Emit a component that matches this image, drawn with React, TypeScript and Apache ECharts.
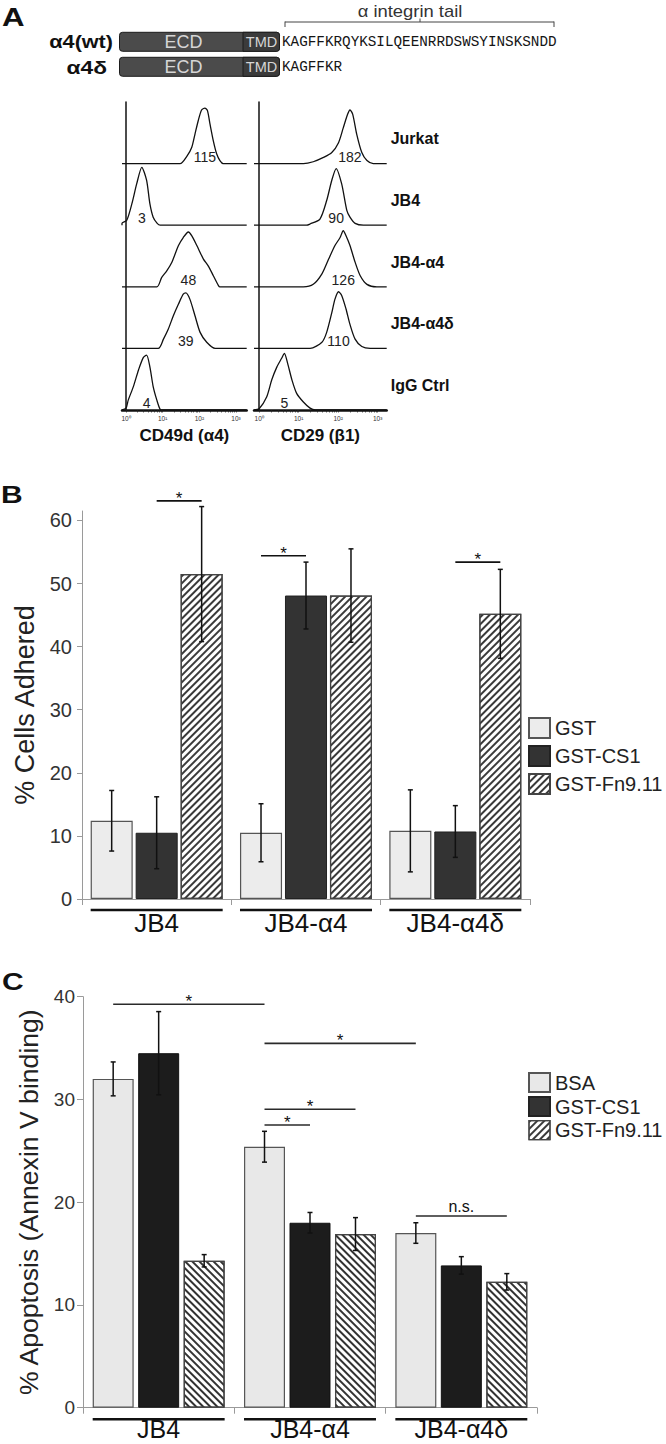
import React, { useEffect, useRef } from 'react';
import * as echarts from 'echarts';

const FONT = '"Liberation Sans", Arial, Helvetica, sans-serif';
const MONO = '"Liberation Mono", "DejaVu Sans Mono", monospace';

// ---------- Panel A: constructs ----------
const constructNames = ['α4(wt)', 'α4δ'];
const constructTails = ['KAGFFKRQYKSILQEENRRDSWSYINSKSNDD', 'KAGFFKR'];

// ---------- Panel A: flow cytometry histograms ----------
const rowNames = ['Jurkat', 'JB4', 'JB4-α4', 'JB4-α4δ', 'IgG Ctrl'];
const cd49dMFI = [115, 3, 48, 39, 4];
const cd29MFI = [182, 90, 126, 110, 5];
const decadeValues = [0, 1, 2, 3];
const decadeLabels = ['10⁰', '10¹', '10²', '10³'];
const cd49dRange = [-0.11, 3.29];
const cd29Range = [-0.13, 3.23];
// [log10 intensity, relative count (fraction of row height)]
const cd49dJurkat = [[1.47,0],[1.67,0.13],[1.79,0.26],[1.88,0.48],[1.97,0.7],[2.06,0.87],[2.15,0.9],[2.22,0.86],[2.29,0.64],[2.38,0.37],[2.47,0.16],[2.56,0.05],[2.65,0]];
const cd49dJB4 = [[-0.11,0.03],[0.02,0.08],[0.16,0.35],[0.29,0.67],[0.43,0.94],[0.56,0.73],[0.65,0.35],[0.74,0.13],[0.85,0.03],[0.93,0]];
const cd49dJB4a4 = [[0.84,0],[0.97,0.15],[1.11,0.26],[1.25,0.4],[1.43,0.67],[1.56,0.8],[1.7,0.89],[1.79,0.83],[1.93,0.67],[2.11,0.45],[2.24,0.34],[2.38,0.18],[2.52,0.02],[2.56,0]];
const cd49dJB4a4d = [[0.88,0],[1.02,0.15],[1.15,0.31],[1.29,0.53],[1.43,0.72],[1.56,0.88],[1.63,0.9],[1.74,0.8],[1.88,0.53],[2.02,0.26],[2.2,0.1],[2.43,0]];
const cd49dIgG = [[0,0.03],[0.06,0.16],[0.2,0.38],[0.34,0.65],[0.47,0.85],[0.56,0.89],[0.65,0.7],[0.74,0.38],[0.84,0.16],[0.93,0.01],[1,0]];
const cd29Jurkat = [[1.12,0],[1.37,0.03],[1.63,0.1],[1.84,0.18],[2.01,0.34],[2.13,0.58],[2.24,0.8],[2.3,0.87],[2.37,0.8],[2.47,0.48],[2.6,0.18],[2.73,0.05],[2.89,0]];
const cd29JB4 = [[1.2,0],[1.29,0.02],[1.54,0.1],[1.71,0.4],[1.84,0.73],[1.95,0.92],[2.09,0.67],[2.22,0.24],[2.3,0.13],[2.43,0.03],[2.64,0]];
const cd29JB4a4 = [[1.12,0],[1.37,0.04],[1.59,0.21],[1.76,0.45],[1.92,0.67],[2.05,0.8],[2.13,0.91],[2.2,0.83],[2.3,0.67],[2.43,0.4],[2.56,0.18],[2.73,0.04],[2.98,0]];
const cd29JB4a4d = [[1.29,0],[1.59,0.1],[1.71,0.26],[1.84,0.58],[1.92,0.8],[2.01,0.92],[2.09,0.86],[2.2,0.64],[2.3,0.39],[2.43,0.15],[2.6,0.03],[2.81,0]];
const cd29IgG = [[0,0.02],[0.19,0.21],[0.32,0.49],[0.45,0.7],[0.57,0.84],[0.64,0.92],[0.72,0.76],[0.83,0.49],[0.95,0.27],[1.12,0.13],[1.29,0.03],[1.42,0]];
const cd49dCurves = [cd49dJurkat, cd49dJB4, cd49dJB4a4, cd49dJB4a4d, cd49dIgG];
const cd29Curves = [cd29Jurkat, cd29JB4, cd29JB4a4, cd29JB4a4d, cd29IgG];

// ---------- Panel B: adhesion ----------
const cellGroups = ['JB4', 'JB4-α4', 'JB4-α4δ'];
const adhesionNames = ['GST', 'GST-CS1', 'GST-Fn9.11'];
const adhesionGST = [12.4, 10.5, 10.8];
const adhesionGSTerr = [4.8, 4.6, 6.5];
const adhesionCS1 = [10.5, 48.1, 10.7];
const adhesionCS1err = [5.7, 5.3, 4.1];
const adhesionFn = [51.5, 48.1, 45.2];
const adhesionFnErr = [10.7, 7.4, 7.05];
const adhesionTicks = [0, 10, 20, 30, 40, 50, 60];
// significance: [fromGroup, fromBar, toGroup, toBar, level]
const adhesionSig = [[0, 1, 0, 2, 63.1], [1, 0, 1, 1, 54.4], [2, 1, 2, 2, 53.4]];
const adhesionSigText = ['*', '*', '*'];

// ---------- Panel C: apoptosis ----------
const apoptosisNames = ['BSA', 'GST-CS1', 'GST-Fn9.11'];
const apoptosisBSA = [32.0, 25.4, 17.0];
const apoptosisBSAerr = [1.65, 1.5, 1.0];
const apoptosisCS1 = [34.5, 18.0, 13.85];
const apoptosisCS1err = [4.05, 1.0, 0.85];
const apoptosisFn = [14.3, 16.9, 12.25];
const apoptosisFnErr = [0.6, 1.6, 0.8];
const apoptosisSig = [[0, 0, 1, 0, 39.26], [1, 0, 2, 0, 35.46], [1, 0, 1, 2, 29.04], [1, 0, 1, 1, 27.51], [2, 0, 2, 2, 18.66]];
const apoptosisSigText = ['*', '*', '*', '*', 'n.s.'];

// ---------- helpers ----------
const logTicks: number[] = [];
for (let k = 0; k < 3; k++) for (let m = 1; m < 10; m++) logTicks.push(k + Math.log10(m));
logTicks.push(3);

function peakX(pts: number[][]) {
  let best = pts[0];
  pts.forEach((p) => { if (p[1] > best[1]) best = p; });
  return best[0];
}

function barLayout(api: any, cat: number, ser: number, catGap: number, gap: number) {
  const bw = api.size([1, 0])[0];
  const w = (bw * (1 - catGap)) / (3 + 2 * gap);
  const total = 3 * w + 2 * w * gap;
  const cx = api.coord([cat, 0])[0] - total / 2 + w / 2 + ser * w * (1 + gap);
  return { cx, w };
}

function st(text: string, size: number, extra: any = {}) {
  const align = extra.align || 'center';
  const va = extra.verticalAlign || 'middle';
  return {
    text,
    fontSize: size,
    fontFamily: FONT,
    fill: '#111',
    ...extra,
    align,
    verticalAlign: va,
    textAlign: align,
    textVerticalAlign: va,
  };
}

function gText(x: number, y: number, text: string, size: number, extra: any = {}, scaleX = 1) {
  return { type: 'text', x, y, scaleX, silent: true, style: st(text, size, extra) };
}

function gLine(x1: number, y1: number, x2: number, y2: number, color = '#444', width = 1) {
  return { type: 'line', silent: true, shape: { x1, y1, x2, y2 }, style: { stroke: color, lineWidth: width } };
}

function buildGraphic() {
  const els: any[] = [];
  // panel letters
  els.push(gText(2, 16.7, 'A', 26, { fontWeight: 'bold', align: 'left' }, 1.2));
  els.push(gText(1, 495, 'B', 24, { fontWeight: 'bold', align: 'left' }, 1.25));
  els.push(gText(2, 981.5, 'C', 24, { fontWeight: 'bold', align: 'left' }, 1.25));
  // tail bracket
  els.push(gText(410, 11, 'α integrin tail', 16, { fill: '#333' }, 1.15));
  els.push(gLine(285, 22, 554, 22));
  els.push(gLine(285, 21.5, 285, 27));
  els.push(gLine(554, 21.5, 554, 27));
  els.push(gLine(420, 22, 420, 18.5));
  const tops = [32.3, 57.3];
  const labelRight = [113, 107];
  const labelSize = [18, 19];
  tops.forEach((top, i) => {
    const h = 19;
    const cy = top + h / 2;
    els.push({ type: 'rect', silent: true, shape: { x: 119.5, y: top, width: 160, height: h, r: 3 }, style: { fill: '#4b4b4b', stroke: '#1c1c1c', lineWidth: 1 } });
    els.push({ type: 'rect', silent: true, shape: { x: 243, y: top, width: 36.5, height: h, r: [0, 3, 3, 0] }, style: { fill: '#3b3b3b', stroke: '#1c1c1c', lineWidth: 1 } });
    els.push(gText(183.5, cy, 'ECD', 18, { fill: '#d6d6d6' }));
    els.push(gText(261.5, cy, 'TMD', 14.5, { fill: '#d6d6d6' }));
    els.push(gText(labelRight[i], cy, constructNames[i], labelSize[i], { fontWeight: 'bold', align: 'right' }, 1.2));
    els.push(gText(282, cy, constructTails[i], 14.3, { fontFamily: MONO, align: 'left', fill: '#151515' }));
  });
  return els;
}

function histSeries(curves: number[][][], axis: number, range: number[]) {
  return curves.map((pts, r) => {
    const base = 4 - r;
    return {
      type: 'line',
      xAxisIndex: axis,
      yAxisIndex: axis,
      data: [[range[0], base], ...pts.map((p) => [p[0], base + p[1]]), [range[1], base]],
      symbol: 'none',
      smooth: 0.25,
      lineStyle: { color: '#111', width: 1.3 },
      silent: true,
      z: 3,
    };
  });
}

function mfiSeries(curves: number[][][], mfi: number[], axis: number) {
  return {
    type: 'custom',
    xAxisIndex: axis,
    yAxisIndex: axis,
    silent: true,
    z: 5,
    data: mfi.map((v, r) => [peakX(curves[r]), 4 - r, v]),
    renderItem: (_p: any, api: any) => {
      const pt = api.coord([api.value(0), api.value(1)]);
      return { type: 'text', x: pt[0], y: pt[1] - 7, style: st(String(api.value(2)), 14, { fill: '#222' }) };
    },
  };
}

function histXAxis(grid: number, range: number[], name: string) {
  return {
    type: 'value',
    gridIndex: grid,
    min: range[0],
    max: range[1],
    splitLine: { show: false },
    axisLine: { show: true, lineStyle: { color: '#111', width: 2.5 } },
    axisTick: { show: true, customValues: logTicks, length: 2.5, lineStyle: { color: '#222', width: 0.7 } },
    axisLabel: {
      show: true,
      customValues: decadeValues,
      formatter: (v: number) => decadeLabels[decadeValues.indexOf(Math.round(v))] || '',
      fontSize: 6.5,
      color: '#333',
      margin: 5,
      fontFamily: FONT,
    },
    name,
    nameLocation: 'middle',
    nameGap: 16.5,
    nameTextStyle: { fontSize: 17, fontWeight: 'bold', color: '#111', fontFamily: FONT },
  };
}

function histYAxis(grid: number) {
  return {
    type: 'value',
    gridIndex: grid,
    min: 0,
    max: 5,
    splitLine: { show: false },
    axisLine: { show: true, lineStyle: { color: '#111', width: 1.5 } },
    axisTick: { show: false },
    axisLabel: { show: false },
  };
}

function barSet(
  names: string[], values: number[][], errs: number[][], xi: number, yi: number,
  catGap: number, gap: number, fills: any[], sig: number[][], sigText: string[],
  sigColor: string, underlineOffset: number,
) {
  const series: any[] = names.map((name, s) => ({
    type: 'bar',
    name,
    xAxisIndex: xi,
    yAxisIndex: yi,
    data: values[s],
    barGap: `${gap * 100}%`,
    barCategoryGap: `${catGap * 100}%`,
    itemStyle: fills[s],
    emphasis: { disabled: true },
    z: 2,
  }));
  const errData: number[][] = [];
  values.forEach((vals, s) => vals.forEach((v, c) => errData.push([c, s, v, errs[s][c]])));
  series.push({
    type: 'custom',
    xAxisIndex: xi,
    yAxisIndex: yi,
    silent: true,
    z: 4,
    encode: { x: 0, y: 2 },
    data: errData,
    renderItem: (_p: any, api: any) => {
      const cat = api.value(0);
      const { cx } = barLayout(api, cat, api.value(1), catGap, gap);
      const m = api.value(2);
      const e = api.value(3);
      const yT = api.coord([cat, m + e])[1];
      const yB = api.coord([cat, m - e])[1];
      const ls = { stroke: '#111', lineWidth: 1.5 };
      return {
        type: 'group',
        children: [
          { type: 'line', shape: { x1: cx, y1: yT, x2: cx, y2: yB }, style: ls },
          { type: 'line', shape: { x1: cx - 2.5, y1: yT, x2: cx + 2.5, y2: yT }, style: ls },
          { type: 'line', shape: { x1: cx - 2.5, y1: yB, x2: cx + 2.5, y2: yB }, style: ls },
        ],
      };
    },
  });
  series.push({
    type: 'custom',
    xAxisIndex: xi,
    yAxisIndex: yi,
    silent: true,
    z: 4,
    encode: { x: 0, y: 4 },
    data: sig,
    renderItem: (p: any, api: any) => {
      const a = barLayout(api, api.value(0), api.value(1), catGap, gap).cx;
      const b = barLayout(api, api.value(2), api.value(3), catGap, gap).cx;
      const y = api.coord([0, api.value(4)])[1];
      const t = sigText[p.dataIndex];
      const isStar = t === '*';
      return {
        type: 'group',
        children: [
          { type: 'line', shape: { x1: a, y1: y, x2: b, y2: y }, style: { stroke: sigColor, lineWidth: 1.6 } },
          { type: 'text', x: (a + b) / 2, y: isStar ? y - 2.7 : y - 9.4, style: st(t, isStar ? 17 : 16, { fill: '#111' }) },
        ],
      };
    },
  });
  series.push({
    type: 'custom',
    xAxisIndex: xi,
    yAxisIndex: yi,
    silent: true,
    z: 4,
    encode: { x: 0, y: 1 },
    data: cellGroups.map((_g, i) => [i, 0]),
    renderItem: (_p: any, api: any) => {
      const cat = api.value(0);
      const first = barLayout(api, cat, 0, catGap, gap);
      const last = barLayout(api, cat, 2, catGap, gap);
      const y = api.coord([cat, 0])[1] + underlineOffset;
      return {
        type: 'line',
        shape: { x1: first.cx - first.w / 2, y1: y, x2: last.cx + last.w / 2, y2: y },
        style: { stroke: '#111', lineWidth: 2.6 },
      };
    },
  });
  return series;
}

function buildOption() {
  const grey = '#9a9a9a';
  const catAxis = (grid: number, margin: number, size: number) => ({
    type: 'category',
    gridIndex: grid,
    data: cellGroups,
    axisLine: { lineStyle: { color: grey, width: 1 } },
    axisTick: { show: true, length: 6, lineStyle: { color: grey } },
    axisLabel: { fontSize: size, color: '#111', margin, fontFamily: FONT },
    splitLine: { show: false },
  });

  const slashDecal = { symbol: 'rect', symbolSize: 1, color: '#3a3a3a', dashArrayX: [1, 0], dashArrayY: [1.1, 2.4], rotation: -Math.PI / 4 };
  const backslashDecal = { symbol: 'rect', symbolSize: 1, color: '#333', dashArrayX: [1, 0], dashArrayY: [1.3, 2.6], rotation: Math.PI / 4 };

  const adhesionFills = [
    { color: '#ececec', borderColor: '#555', borderWidth: 1.2 },
    { color: '#333333', borderColor: '#222', borderWidth: 1 },
    { color: '#ffffff', borderColor: '#444', borderWidth: 1.2, decal: slashDecal },
  ];
  const apoptosisFills = [
    { color: '#e8e8e8', borderColor: '#555', borderWidth: 1.2 },
    { color: '#1c1c1c', borderColor: '#111', borderWidth: 1 },
    { color: '#ffffff', borderColor: '#444', borderWidth: 1.2, decal: backslashDecal },
  ];

  const legendBase = {
    orient: 'vertical',
    left: 528,
    itemWidth: 21,
    icon: 'rect',
    padding: 0,
    selectedMode: false,
    textStyle: { fontSize: 20, color: '#222', fontFamily: FONT },
  };

  return {
    animation: false,
    textStyle: { fontFamily: FONT },
    graphic: { elements: buildGraphic() },
    legend: [
      { ...legendBase, data: adhesionNames, top: 717, itemHeight: 20, itemGap: 6 },
      {
        ...legendBase,
        data: [
          apoptosisNames[0],
          apoptosisNames[1],
          { name: apoptosisNames[2], itemStyle: { color: '#ffffff', borderColor: '#444', borderWidth: 1.2, decal: slashDecal } },
        ],
        top: 1072,
        itemHeight: 19,
        itemGap: 3,
      },
    ],
    grid: [
      { left: 122, top: 102, width: 124.7, height: 308 },
      { left: 254, top: 102, width: 132.7, height: 308 },
      { left: 82, top: 511, width: 448, height: 388 },
      { left: 83, top: 996.7, width: 454, height: 411 },
    ],
    xAxis: [
      histXAxis(0, cd49dRange, 'CD49d (α4)'),
      histXAxis(1, cd29Range, 'CD29 (β1)'),
      catAxis(2, 11, 26),
      catAxis(3, 8.5, 25),
    ],
    yAxis: [
      histYAxis(0),
      histYAxis(1),
      {
        type: 'value',
        gridIndex: 1,
        position: 'right',
        min: 0,
        max: 5,
        splitLine: { show: false },
        axisLine: { show: false },
        axisTick: { show: false },
        axisLabel: {
          customValues: rowNames.map((_n, r) => 4 - r + 0.4),
          formatter: (v: number) => rowNames[4 - Math.floor(v)] || '',
          fontSize: 16,
          fontWeight: 'bold',
          color: '#111',
          margin: 4,
          fontFamily: FONT,
        },
      },
      {
        type: 'value',
        gridIndex: 2,
        min: 0,
        max: 61.5,
        splitLine: { show: false },
        axisLine: { show: true, lineStyle: { color: grey, width: 1 } },
        axisTick: { show: true, customValues: adhesionTicks, length: 5, lineStyle: { color: grey } },
        axisLabel: { customValues: adhesionTicks, fontSize: 20, color: '#333', margin: 10, fontFamily: FONT },
        name: '% Cells Adhered',
        nameLocation: 'middle',
        nameRotate: 90,
        nameGap: 37.5,
        nameTextStyle: { fontSize: 27, color: '#222', fontFamily: FONT },
      },
      {
        type: 'value',
        gridIndex: 3,
        min: 0,
        max: 40,
        interval: 10,
        splitLine: { show: false },
        axisLine: { show: true, lineStyle: { color: grey, width: 1 } },
        axisTick: { show: true, length: 6, lineStyle: { color: grey } },
        axisLabel: { fontSize: 19, color: '#333', margin: 8, fontFamily: FONT },
        name: '% Apoptosis (Annexin V binding)',
        nameLocation: 'middle',
        nameRotate: 90,
        nameGap: 37.5,
        nameTextStyle: { fontSize: 26.6, color: '#222', fontFamily: FONT },
      },
    ],
    series: [
      ...histSeries(cd49dCurves, 0, cd49dRange),
      ...histSeries(cd29Curves, 1, cd29Range),
      mfiSeries(cd49dCurves, cd49dMFI, 0),
      mfiSeries(cd29Curves, cd29MFI, 1),
      ...barSet(adhesionNames, [adhesionGST, adhesionCS1, adhesionFn], [adhesionGSTerr, adhesionCS1err, adhesionFnErr],
        2, 3, 0.116, 0.07, adhesionFills, adhesionSig, adhesionSigText, '#111', 11),
      ...barSet(apoptosisNames, [apoptosisBSA, apoptosisCS1, apoptosisFn], [apoptosisBSAerr, apoptosisCS1err, apoptosisFnErr],
        3, 4, 0.128, 0.11, apoptosisFills, apoptosisSig, apoptosisSigText, '#2a2a2a', 11.6),
    ],
  };
}

export default function App() {
  const ref = useRef<HTMLDivElement>(null);
  useEffect(() => {
    document.body.style.margin = '0';
    const chart = echarts.init(ref.current as HTMLDivElement, null, { renderer: 'svg' });
    chart.setOption(buildOption() as any);
    return () => chart.dispose();
  }, []);
  return <div ref={ref} style={{ width: 666, height: 1444, background: '#fff' }} />;
}
